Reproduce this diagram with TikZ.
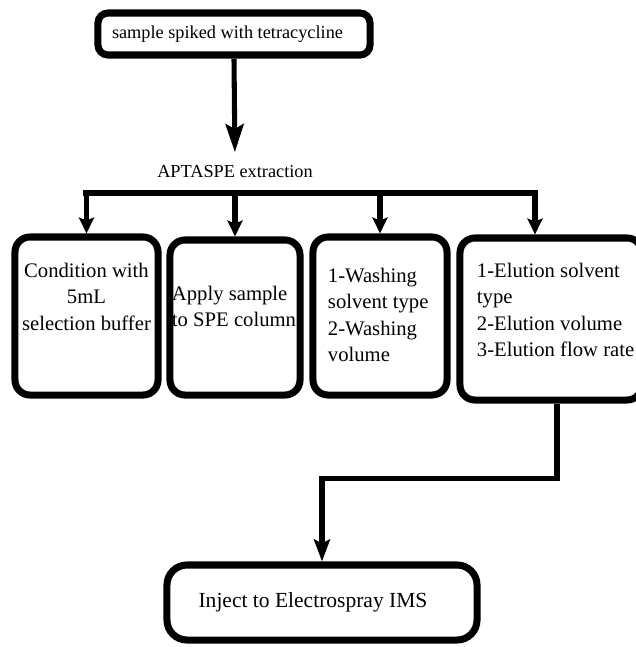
\documentclass[tikz,border=0pt]{standalone}
\usepackage{fontspec}
\setmainfont{Liberation Serif}
\usetikzlibrary{arrows.meta}
\tikzset{
  stage/.style={draw, line width=5pt, rounded corners=0.375cm, inner sep=0pt,
                font=\fontsize{14.7}{18.85}\selectfont},
  topstage/.style={stage, rounded corners=0.25cm,
                   font=\fontsize{13}{15.6}\selectfont},
  flow/.style={line width=3.6pt,
               -{Stealth[length=0.4cm,width=0.38cm,inset=0.08cm]}},
  flowbig/.style={flow, -{Stealth[length=0.7cm,width=0.45cm,inset=0.12cm]}},
  bus/.style={line width=4.3pt, line cap=rect},
}
\newcommand{\stagetext}[4]{\parbox[c][#1][t]{#2}{#3#4}}

\begin{document}
\begin{tikzpicture}[x=0.025cm, y=-0.025cm]
\useasboundingbox (0,0) rectangle (636,647);
\node[topstage, minimum width=6.8cm, minimum height=1.05cm] (top) at (234,34)
  {\hspace*{-0.325cm}sample spiked with tetracycline};
\node[font=\fontsize{13}{15.6}\selectfont, inner sep=1pt] (apt) at (235,172)
  {APTASPE extraction};
\coordinate (bus) at (0,193);
% the four extraction steps
\node[stage, minimum width=3.575cm, minimum height=3.95cm] (b1) at (86.5,316)
  {\stagetext{2.65cm}{3.5cm}{\centering}{Condition with\\5mL\\selection buffer}};
\node[stage, minimum width=3.25cm, minimum height=3.875cm] (b2) at (235,317.5)
  {\stagetext{1.575cm}{3.15cm}{\raggedright}{Apply sample\\to SPE column}};
\node[stage, minimum width=3.35cm, minimum height=3.95cm] (b3) at (380,316)
  {\stagetext{2.4cm}{2.6cm}{\raggedright}{1-Washing\\solvent type\\2-Washing\\volume}};
\node[stage, minimum width=4.55cm, minimum height=4.05cm] (b4) at (551,319)
  {\stagetext{2.8cm}{3.7cm}{\raggedright}{1-Elution solvent\\type\\2-Elution volume\\\mbox{3-Elution flow rate}}};
\coordinate (d4) at ([shift={(-16,0)}]b4.north);
\node[stage, rounded corners=0.5cm, font=\fontsize{15.3}{18}\selectfont,
      minimum width=7.75cm, minimum height=1.875cm] (inject) at (322,602.5)
  {\hspace*{-0.45cm}Inject to Electrospray IMS};

\draw[flowbig, shorten >=0.3cm] (top.south) -- (apt.north);
\draw[bus] (b1.north |- bus) -- (d4 |- bus);
\foreach \p in {b1.north, b2.north, b3.north, d4} {
  \draw[flow] (\p |- bus) -- (\p);
}
\draw[flow, -{Stealth[length=0.55cm,width=0.4cm,inset=0.1cm]}]
  ([shift={(6,0)}]b4.south) -- ++(0,75) -| (inject.north);
\end{tikzpicture}
\end{document}
